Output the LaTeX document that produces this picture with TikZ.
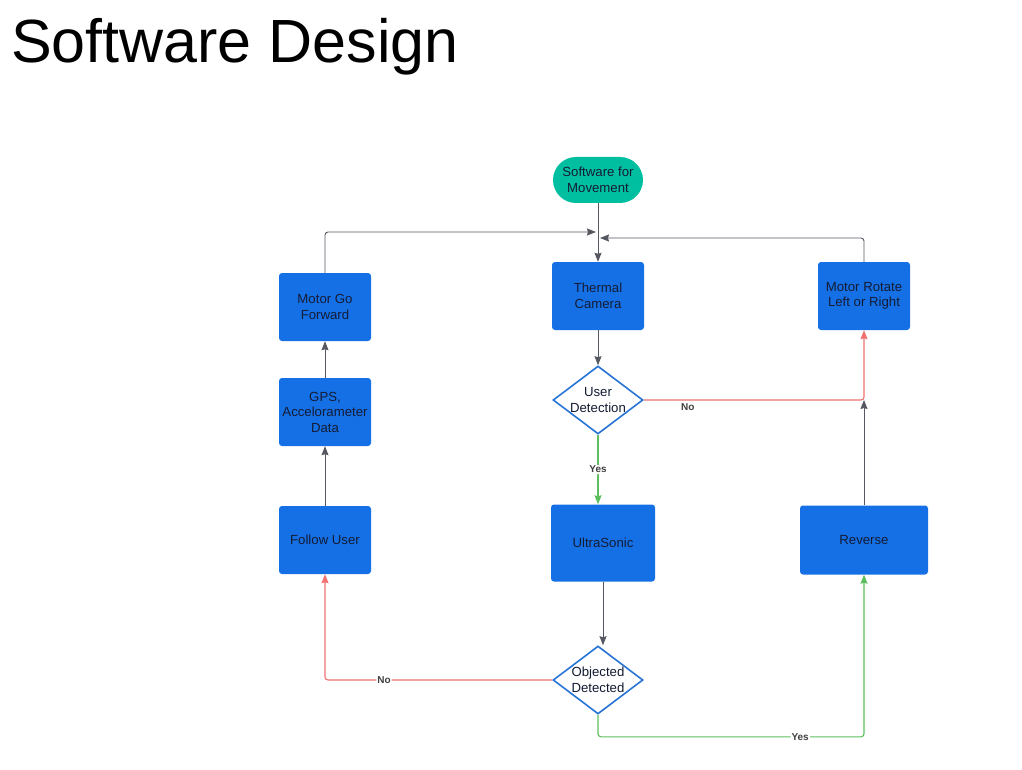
\documentclass[tikz,border=0pt]{standalone}
\usepackage{fontspec}
\setmainfont{Liberation Sans}
\usetikzlibrary{shapes.geometric, arrows.meta, positioning}

\definecolor{flowblue}{RGB}{21,112,230}
\definecolor{startteal}{RGB}{0,191,160}
\definecolor{diablue}{RGB}{40,116,214}
\definecolor{nodetext}{RGB}{20,28,52}
\definecolor{linegray}{RGB}{85,88,96}
\definecolor{nored}{RGB}{240,112,112}
\definecolor{yesgreen}{RGB}{92,190,92}

\tikzset{
    box/.style={rectangle, rounded corners=3pt, fill=flowblue, text=nodetext, minimum width=92pt, minimum height=68pt, align=center, font=\fontsize{13.2}{15.5}\selectfont},
    decision/.style={diamond, aspect=1.3, draw=diablue, line width=1.6pt, fill=white, text=nodetext, minimum width=90pt, minimum height=68pt, inner sep=-2pt, align=center, font=\fontsize{13.2}{15.5}\selectfont},
    startnode/.style={rectangle, rounded corners=23pt, fill=startteal, text=nodetext, minimum width=90pt, minimum height=46pt, align=center, font=\fontsize{13.2}{15.5}\selectfont},
    flow/.style={draw=linegray, line width=0.9pt, rounded corners=3pt, -{Stealth[length=9pt,width=7pt,inset=1pt]}},
    nopath/.style={flow, draw=nored, line width=1.1pt},
    yespath/.style={flow, draw=yesgreen, line width=1.1pt},
    branch/.style={font=\bfseries\fontsize{10}{11}\selectfont, text=black!75, fill=white, inner sep=1pt}
}

\begin{document}
\begin{tikzpicture}[x=1pt, y=-1pt]
    \useasboundingbox (0,0) rectangle (1022,770);
    \node[anchor=base west, inner sep=0pt, font=\fontsize{61}{66}\selectfont] (title) at (11,63) {Software Design};

    % nodes
    \node[startnode] (start) at (598,180) {Software for\\Movement};
    \node[box] (thermal) at (598,296) {Thermal\\Camera};
    \node[box] (forward) at (325,307) {Motor Go\\Forward};
    \node[box] (gps) at (325,412) {GPS,\\Accelorameter\\Data};
    \node[box] (follow) at (325,540) {Follow User};
    \node[decision] (userdet) at (598,400) {User\\Detection};
    \node[box, minimum width=104pt, minimum height=77pt] (ultra) at (603,543) {UltraSonic};
    \node[box] (rotate) at (864,296) {Motor Rotate\\Left or Right};
    \node[box, minimum width=128pt, minimum height=69pt] (reverse) at (864,540) {Reverse};
    \node[decision] (objdet) at (598,680) {Objected\\Detected};

    \coordinate (joinL) at (596,232);
    \coordinate (joinR) at (600,238);

    % connectors
    \draw[flow] (start) -- (thermal);
    \draw[flow] (forward.north) |- (joinL);
    \draw[flow] (rotate.north) |- (joinR);
    \draw[flow] (thermal) -- (userdet);
    \draw[yespath] (userdet.south) -- node[branch] {Yes} (userdet.south |- ultra.north);
    \draw[nopath] (userdet.east) -| node[pos=0.1, below=2pt, branch, fill=none] {No} (rotate.south);
    \draw[flow] (reverse.north) -- (reverse.north |- userdet.east);
    \draw[flow] (ultra.south) -- (ultra.south |- objdet.north);
    \draw[nopath] (objdet.west) -| node[pos=0.37, branch] {No} (follow.south);
    \draw[yespath] (objdet.south) -- ++(0,22) -| node[pos=0.38, branch] {Yes} (reverse.south);
    \draw[flow] (follow) -- (gps);
    \draw[flow] (gps) -- (forward);
\end{tikzpicture}
\end{document}
